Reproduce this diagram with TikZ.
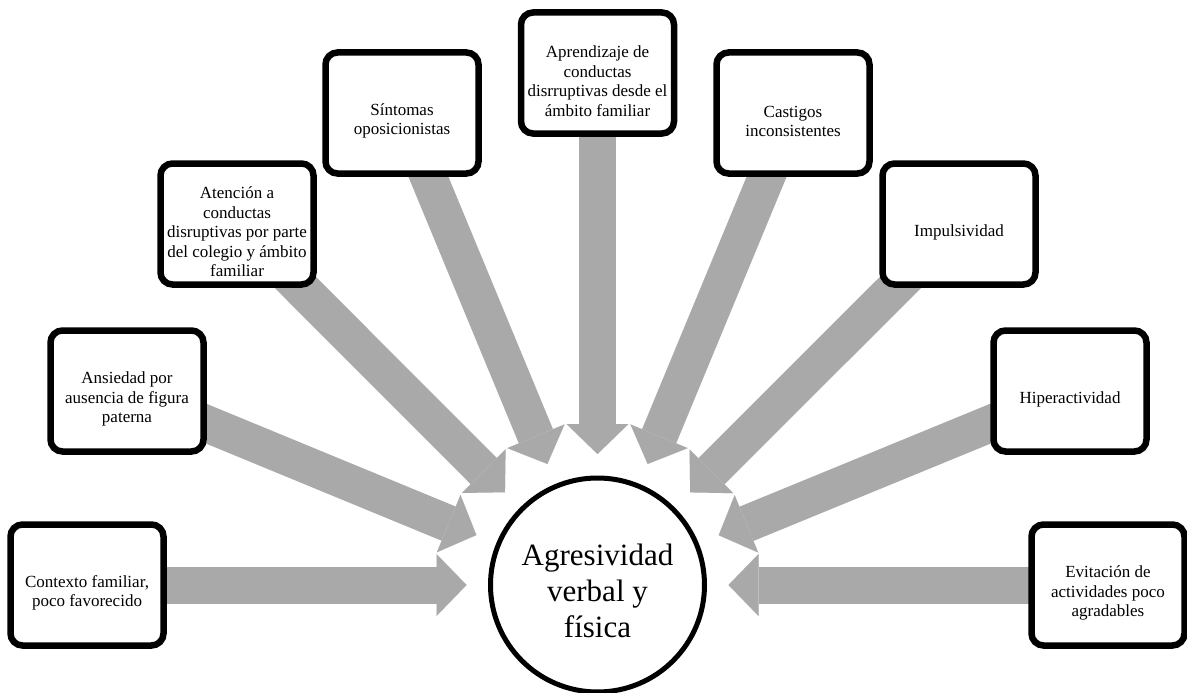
\documentclass[tikz,border=0pt]{standalone}
\usepackage{fontspec}
\setmainfont{Liberation Serif}
\usetikzlibrary{arrows.meta,calc,backgrounds}
\definecolor{arrowgray}{HTML}{A9A9A9}
\newcommand\gapbox{\rule{0pt}{28pt}}
\newcommand\gaphub{\rule{0pt}{34pt}}
\begin{document}
\begin{tikzpicture}
  [x=1pt,y=-1pt,
   box/.style={draw,line width=6.5pt,rounded corners=12pt,fill=white,minimum width=153pt,minimum height=121pt,align=center,inner sep=2pt,font=\fontsize{17}{19.5}\selectfont},
   hub/.style={circle,draw,line width=5pt,fill=white,minimum size=214pt,align=center,inner sep=0pt,font=\fontsize{31}{36}\selectfont},
   feed/.style={line width=37pt,arrowgray,-{Triangle[length=30pt,width=62pt,line width=0.01pt]}}]
  \useasboundingbox (0,0) rectangle (1187,693);
  \node[hub] (c) at (597.5,585) {\gaphub Agresividad\\verbal y\\física};
  \node[box] (n1) at (87,585)  {\gapbox Contexto familiar,\\poco favorecido};
  \node[box] (n2) at (127,391) {\gapbox Ansiedad por\\ausencia de figura\\paterna};
  \node[box] (n3) at (237,224) {\gapbox Atención a\\conductas\\disruptivas por parte\\del colegio y ámbito\\familiar};
  \node[box] (n4) at (402,113) {\gapbox Síntomas\\oposicionistas};
  \node[box] (n5) at (597.5,73) {\gapbox Aprendizaje de\\conductas\\disrruptivas desde el\\ámbito familiar};
  \node[box] (n6) at (793,113) {\gapbox Castigos\\inconsistentes};
  \node[box] (n7) at (959,224) {\gapbox Impulsividad};
  \node[box] (n8) at (1070,391) {\gapbox Hiperactividad};
  \node[box] (n9) at (1108,585) {\gapbox Evitación de\\actividades poco\\agradables};

  \begin{scope}[on background layer]
   \foreach \from in {n1,n2,n3,n4,n5,n6,n7,n8,n9}
    \draw[feed] (\from.center) -- ($(c.center)!131pt!(\from.center)$);
  \end{scope}
\end{tikzpicture}
\end{document}
